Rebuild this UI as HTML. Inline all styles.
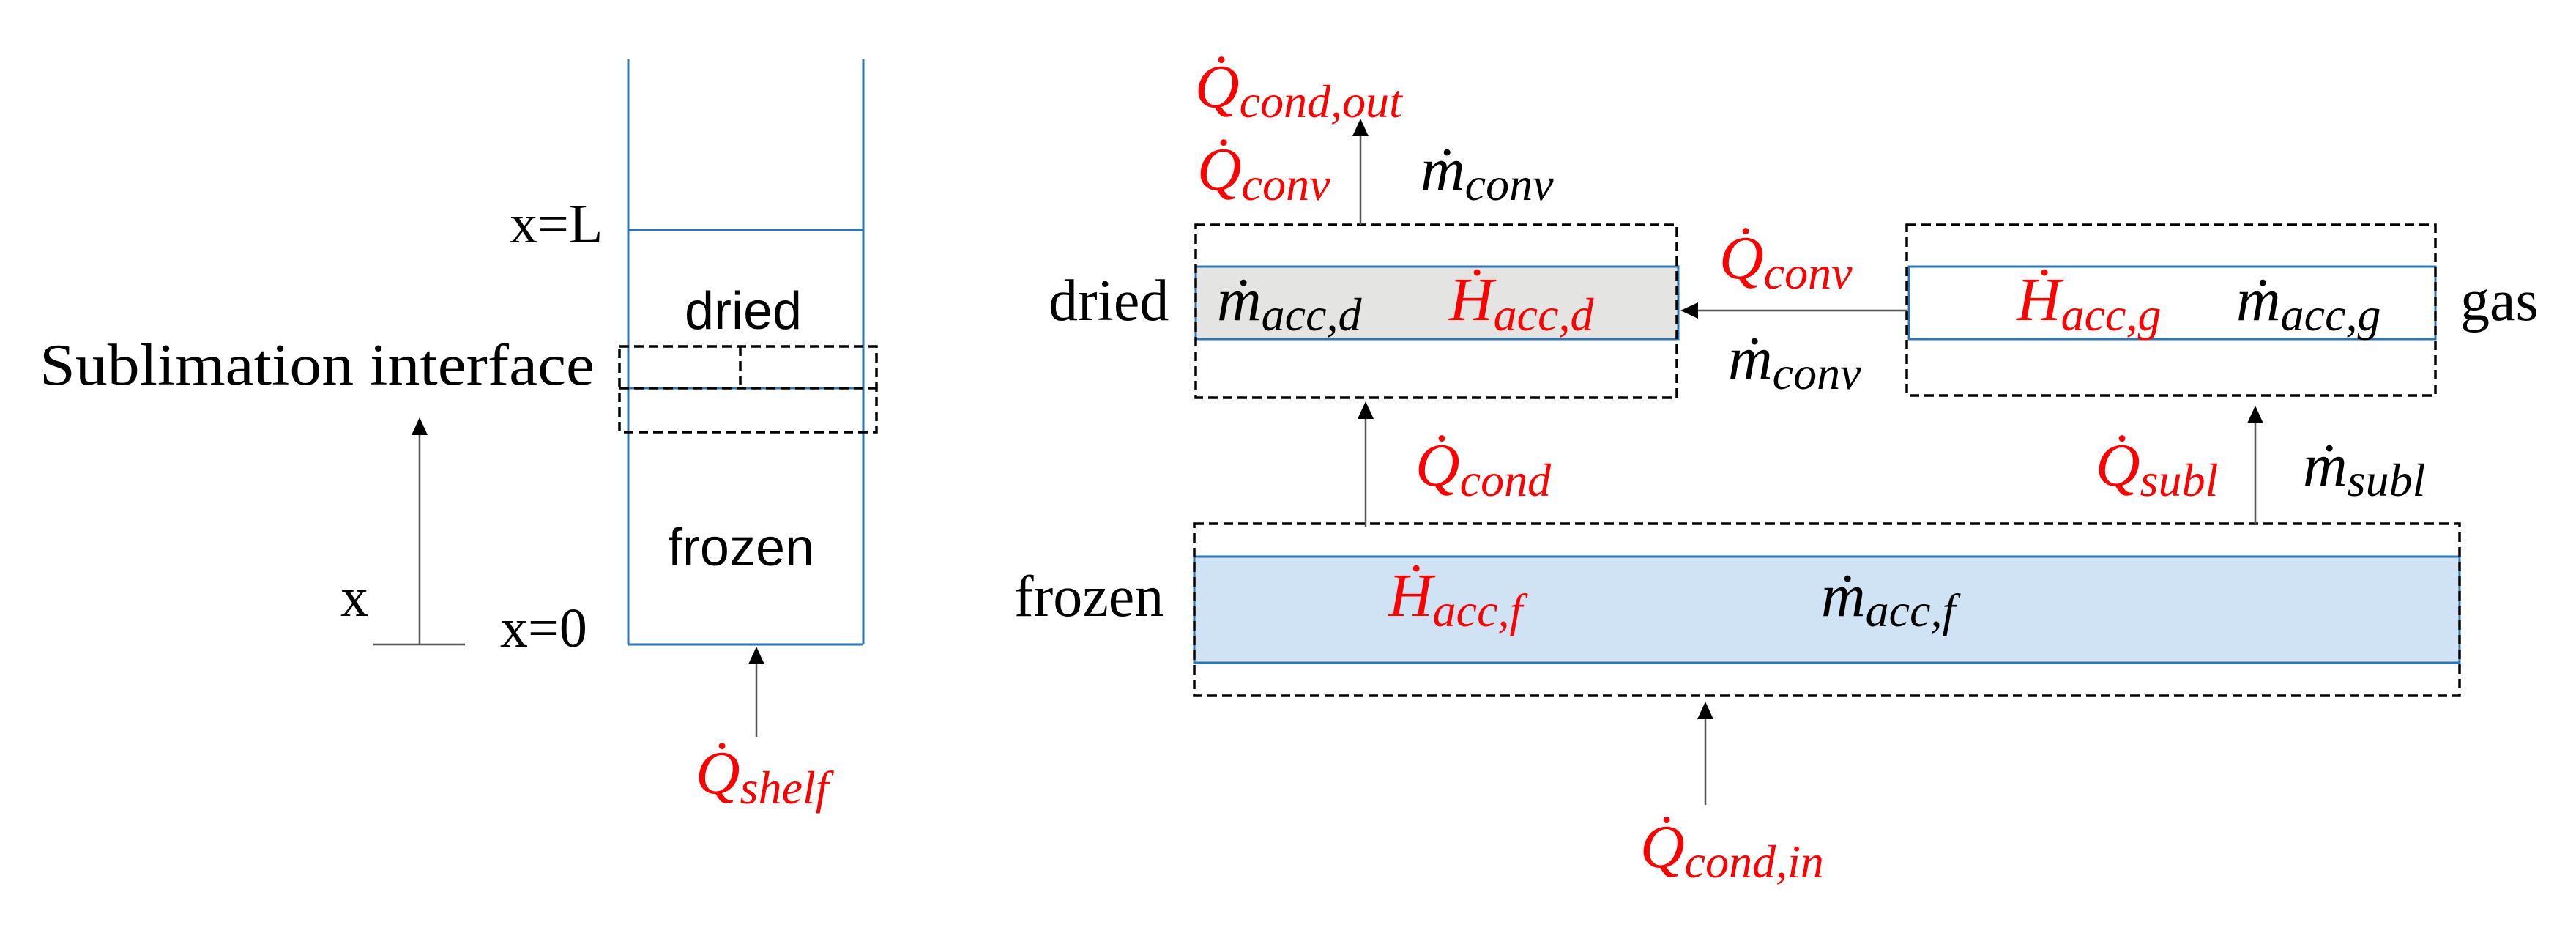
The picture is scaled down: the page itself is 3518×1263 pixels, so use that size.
<!DOCTYPE html>
<html><head><meta charset="utf-8"><style>
html,body{margin:0;padding:0;background:#fff;}
svg{display:block;}
.s{font-family:"Liberation Serif",serif;}
.a{font-family:"Liberation Sans",sans-serif;}
.m{font-family:"Liberation Serif",serif;font-style:italic;font-size:84px;}
.r{fill:#ff0000;}
.k{fill:#000;}
</style></head><body>
<svg width="3518" height="1263" viewBox="0 0 3518 1263" xmlns="http://www.w3.org/2000/svg">
<rect width="3518" height="1263" fill="#fff"/>

<!-- LEFT PANEL -->
<g stroke="#2e75b6" stroke-width="3" fill="none">
<line x1="858" y1="81" x2="858" y2="880"/>
<line x1="1179" y1="81" x2="1179" y2="880"/>
<line x1="858" y1="314" x2="1179" y2="314"/>
<line x1="858" y1="880" x2="1179" y2="880"/>
<line x1="858" y1="530" x2="1179" y2="530"/>
</g>
<g stroke="#000" stroke-width="3.5" fill="none" stroke-dasharray="13,7">
<rect x="846" y="473" width="351" height="117"/>
<line x1="846" y1="530" x2="1197" y2="530"/>
<line x1="1011" y1="473" x2="1011" y2="530"/>
</g>
<text class="a" x="1015" y="449" font-size="72" text-anchor="middle">dried</text>
<text class="a" x="1012" y="772" font-size="72" text-anchor="middle">frozen</text>
<text class="s" x="54" y="525" font-size="80" textLength="758" lengthAdjust="spacingAndGlyphs">Sublimation interface</text>
<text class="s" x="696" y="331" font-size="76">x=L</text>
<text class="s" x="683" y="883" font-size="76">x=0</text>
<text class="s" x="465" y="841" font-size="76">x</text>
<g stroke="#555" stroke-width="2.5">
<line x1="573" y1="880" x2="573" y2="590"/>
<line x1="510" y1="880" x2="635" y2="880"/>
<line x1="1033" y1="1006" x2="1033" y2="900"/>
</g>
<polygon points="573,570 562,594 584,594" fill="#000"/>
<polygon points="1033,883 1022,907 1044,907" fill="#000"/>
<text class="m r" x="950" y="1083">Q̇<tspan font-size="64" dy="14">shelf</tspan></text>

<!-- RIGHT PANEL -->
<rect x="1633" y="364" width="659" height="99" fill="#e4e4e2"/>
<rect x="1631" y="760" width="1728" height="145" fill="#cfe3f4"/>
<g stroke="#2e75b6" stroke-width="3" fill="none">
<rect x="1633" y="364" width="659" height="99"/>
<rect x="2607" y="364" width="719" height="99"/>
<rect x="1631" y="760" width="1728" height="145"/>
</g>
<g stroke="#000" stroke-width="3.5" fill="none" stroke-dasharray="13,7">
<rect x="1633" y="307" width="657" height="236"/>
<rect x="2604" y="307" width="722" height="233"/>
<rect x="1631" y="715" width="1728" height="235"/>
</g>
<g stroke="#555" stroke-width="2.5">
<line x1="1858" y1="307" x2="1858" y2="180"/>
<line x1="1865" y1="720" x2="1865" y2="568"/>
<line x1="2604" y1="424" x2="2315" y2="424"/>
<line x1="3080" y1="715" x2="3080" y2="574"/>
<line x1="2329" y1="1099" x2="2329" y2="978"/>
</g>
<polygon points="1858,162 1847,186 1869,186" fill="#000"/>
<polygon points="1865,548 1854,572 1876,572" fill="#000"/>
<polygon points="2295,424 2319,413 2319,435" fill="#000"/>
<polygon points="3080,554 3069,578 3091,578" fill="#000"/>
<polygon points="2329,958 2318,982 2340,982" fill="#000"/>

<text class="s" x="1432" y="437" font-size="80">dried</text>
<text class="s" x="1385" y="841" font-size="80">frozen</text>
<text class="s" x="3360" y="437" font-size="80">gas</text>

<text class="m r" x="1632" y="146">Q̇<tspan font-size="64" dy="14">cond,out</tspan></text>
<text class="m r" x="1635" y="259">Q̇<tspan font-size="64" dy="14">conv</tspan></text>
<text class="m k" x="1940" y="259">ṁ<tspan font-size="64" dy="14">conv</tspan></text>
<text class="m k" x="1662" y="437">ṁ<tspan font-size="64" dy="14">acc,d</tspan></text>
<text class="m r" x="1979" y="437">Ḣ<tspan font-size="64" dy="14">acc,d</tspan></text>
<text class="m r" x="2348" y="380">Q̇<tspan font-size="64" dy="14">conv</tspan></text>
<text class="m k" x="2360" y="517">ṁ<tspan font-size="64" dy="14">conv</tspan></text>
<text class="m r" x="2754" y="437">Ḣ<tspan font-size="64" dy="14">acc,g</tspan></text>
<text class="m k" x="3054" y="437">ṁ<tspan font-size="64" dy="14">acc,g</tspan></text>
<text class="m r" x="1933" y="663">Q̇<tspan font-size="64" dy="14">cond</tspan></text>
<text class="m r" x="2862" y="663">Q̇<tspan font-size="64" dy="14">subl</tspan></text>
<text class="m k" x="3145" y="663">ṁ<tspan font-size="64" dy="14">subl</tspan></text>
<text class="m r" x="1896" y="841">Ḣ<tspan font-size="64" dy="14">acc,f</tspan></text>
<text class="m k" x="2487" y="841">ṁ<tspan font-size="64" dy="14">acc,f</tspan></text>
<text class="m r" x="2240" y="1184">Q̇<tspan font-size="64" dy="14">cond,in</tspan></text>
</svg>
</body></html>
